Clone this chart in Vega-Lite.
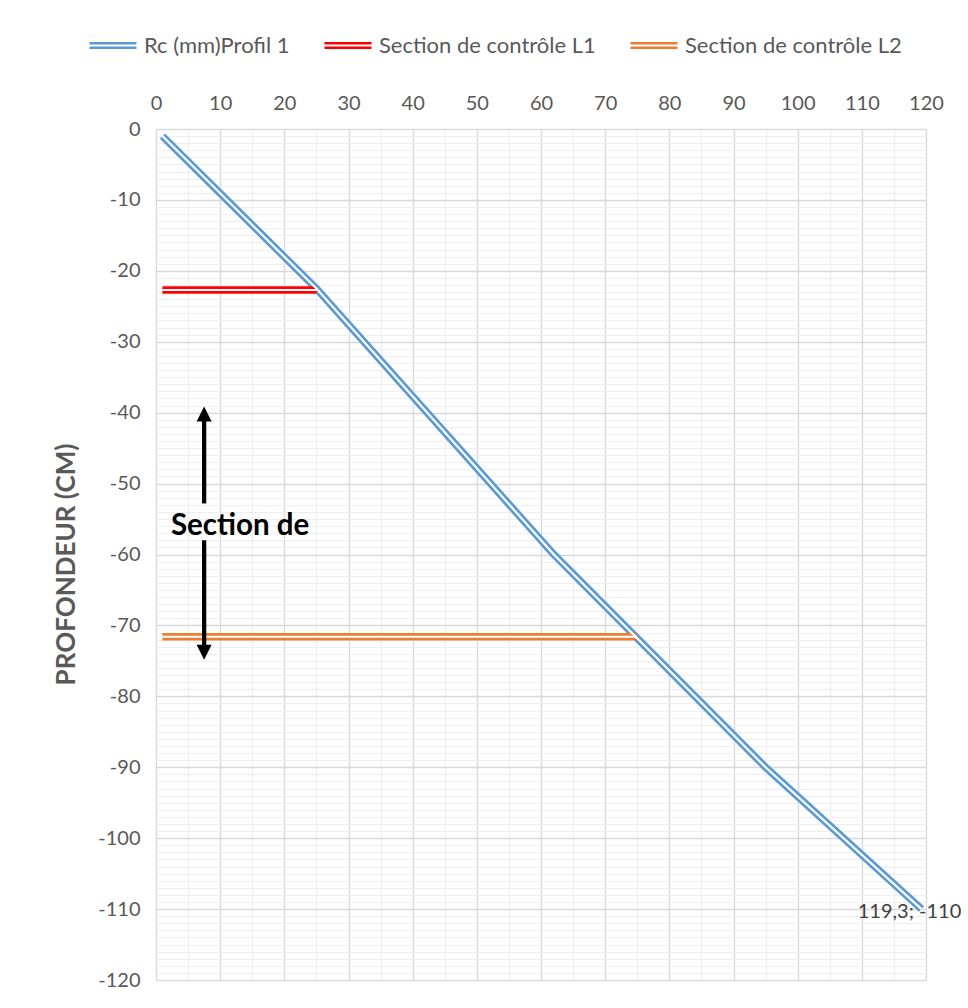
{
  "$schema": "https://vega.github.io/schema/vega-lite/v6.json",
  "width": 770,
  "height": 851,
  "autosize": {"type": "none"},
  "padding": {"left": 156, "top": 129, "right": 42, "bottom": 28},
  "background": "white",
  "config": {
    "font": "Lato",
    "view": {"stroke": null},
    "axis": {"labelFont": "Lato", "labelColor": "#595959", "labelFontSize": 20, "domain": false, "ticks": false}
  },
  "datasets": {
    "courbes": [
      {"serie": "Rc (mm)Profil 1", "ordre": 1, "x": 1, "y": -1},
      {"serie": "Rc (mm)Profil 1", "ordre": 2, "x": 25, "y": -22.5},
      {"serie": "Rc (mm)Profil 1", "ordre": 3, "x": 62, "y": -60},
      {"serie": "Rc (mm)Profil 1", "ordre": 4, "x": 95, "y": -90},
      {"serie": "Rc (mm)Profil 1", "ordre": 5, "x": 119.3, "y": -110},
      {"serie": "Section de contrôle L1", "ordre": 1, "x": 1, "y": -22.7},
      {"serie": "Section de contrôle L1", "ordre": 2, "x": 25, "y": -22.7},
      {"serie": "Section de contrôle L2", "ordre": 1, "x": 1, "y": -71.6},
      {"serie": "Section de contrôle L2", "ordre": 2, "x": 74.9, "y": -71.6}
    ],
    "fleche": [
      {"x": 7.5, "y": -41, "y2": -52.8},
      {"x": 7.5, "y": -58, "y2": -72.8}
    ],
    "pointes": [
      {"x": 7.5, "y": -40.2, "sens": "haut"},
      {"x": 7.5, "y": -73.8, "sens": "bas"}
    ],
    "notes": [
      {"x": 13.1, "y": -56, "texte": "Section de"}
    ],
    "etiquettes": [
      {"x": 119.3, "y": -110, "texte": "119,3; -110"}
    ]
  },
  "encoding": {
    "x": {
      "field": "x", "type": "quantitative",
      "scale": {"domain": [0, 120], "nice": false, "zero": false},
      "axis": {
        "orient": "top", "title": null, "tickCount": 24, "labelOverlap": false, "labelFlush": false,
        "labelPadding": 16,
        "labelExpr": "datum.value % 10 === 0 ? '' + datum.value : ''",
        "gridColor": {"condition": {"test": "datum.value % 10 === 0", "value": "#d9d9d9"}, "value": "#eeeeee"},
        "gridWidth": {"condition": {"test": "datum.value % 10 === 0", "value": 1.4}, "value": 1.2}
      }
    },
    "y": {
      "field": "y", "type": "quantitative",
      "scale": {"domain": [-120, 0], "nice": false, "zero": false},
      "axis": {
        "orient": "left", "title": "PROFONDEUR (CM)", "tickCount": 120, "labelOverlap": false, "labelFlush": false,
        "labelPadding": 16,
        "labelExpr": "datum.value % 10 === 0 ? '' + datum.value : ''",
        "titleFont": "Lato", "titleFontSize": 26, "titleFontWeight": "bold", "titleColor": "#595959", "titlePadding": 18,
        "titleY": 435,
        "gridColor": {"condition": {"test": "datum.value % 10 === 0", "value": "#d9d9d9"}, "value": "#eeeeee"},
        "gridWidth": {"condition": {"test": "datum.value % 10 === 0", "value": 1.4}, "value": 1.2}
      }
    }
  },
  "layer": [
    {
      "data": {"name": "courbes"},
      "mark": {"type": "line", "strokeWidth": 7.5, "strokeCap": "butt"},
      "encoding": {
        "order": {"field": "ordre", "type": "quantitative"},
        "color": {
          "field": "serie", "type": "nominal",
          "scale": {"domain": ["Rc (mm)Profil 1", "Section de contrôle L1", "Section de contrôle L2"], "range": ["#5b9bd5", "#ff0000", "#ed7d31"]},
          "legend": {
            "title": null, "orient": "none", "direction": "horizontal", "legendX": -68, "legendY": -108.5,
            "padding": 0, "columnPadding": 29, "labelOffset": 6,
            "symbolType": "M-1,-0.1H1M-1,0.1H1", "symbolSize": 2209, "symbolStrokeWidth": 2.5,
            "labelFont": "Lato", "labelFontSize": 22, "labelColor": "#595959", "labelLimit": 400
          }
        }
      }
    },
    {
      "data": {"name": "courbes"},
      "mark": {"type": "line", "strokeWidth": 2.2, "color": "white", "strokeCap": "butt"},
      "encoding": {
        "order": {"field": "ordre", "type": "quantitative"},
        "detail": {"field": "serie", "type": "nominal"}
      }
    },
    {
      "data": {"name": "fleche"},
      "mark": {"type": "rule", "color": "black", "strokeWidth": 4.3},
      "encoding": {"y2": {"field": "y2"}}
    },
    {
      "data": {"name": "pointes"},
      "mark": {"type": "point", "filled": true, "color": "black", "opacity": 1, "size": 225},
      "encoding": {
        "shape": {
          "field": "sens", "type": "nominal",
          "scale": {"domain": ["haut", "bas"], "range": ["M-1,1L0,-1L1,1Z", "M-1,-1L0,1L1,-1Z"]},
          "legend": null
        }
      }
    },
    {
      "data": {"name": "notes"},
      "mark": {"type": "text", "font": "Lato", "fontSize": 29.5, "fontWeight": "bold", "color": "black", "align": "center", "baseline": "middle"},
      "encoding": {"text": {"field": "texte"}}
    },
    {
      "data": {"name": "etiquettes"},
      "mark": {"type": "text", "font": "Lato", "fontSize": 20, "color": "#404040", "align": "center", "baseline": "middle", "dx": -12, "dy": 3},
      "encoding": {"text": {"field": "texte"}}
    }
  ]
}
